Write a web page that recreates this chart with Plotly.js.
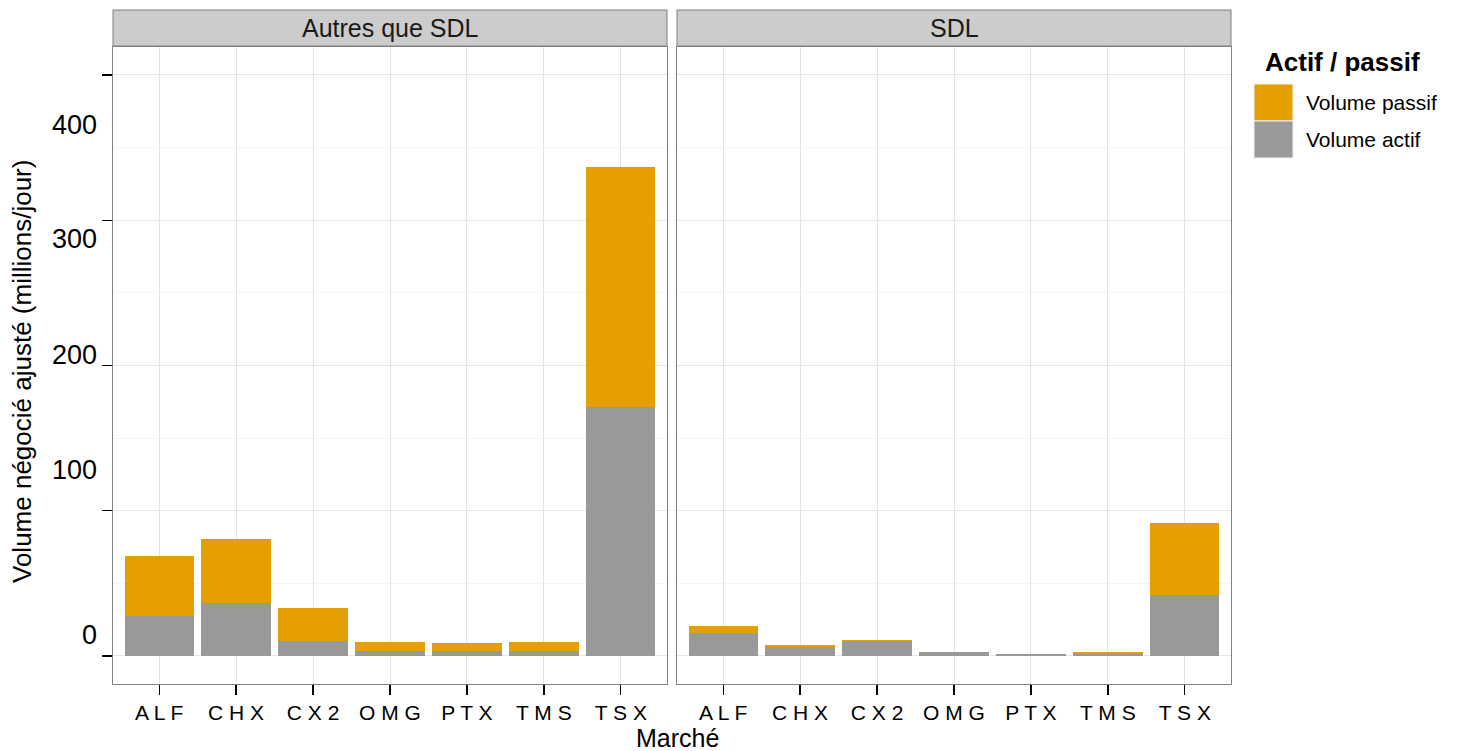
<!DOCTYPE html>
<html>
<head>
<meta charset="utf-8">
<script src="https://cdn.plot.ly/plotly-3.0.1.min.js"></script>
<style>
html, body { margin: 0; padding: 0; background: #ffffff; }
#chart { width: 1457px; height: 751px; }
</style>
</head>
<body>
<div id="chart"></div>
<script>
// ---- Data ----
const categories = ['ALF', 'CHX', 'CX2', 'OMG', 'PTX', 'TMS', 'TSX'];
const facetNames = ['Autres que SDL', 'SDL'];
const autresActif  = [27.5, 36.8, 10.5, 3.6, 3.6, 3.6, 171.6];
const autresPassif = [41.3, 44.0, 22.3, 6.2, 5.3, 6.2, 165.2];
const sdlActif     = [16.1, 6.5, 10.4, 2.4, 1.5, 1.2, 42.3];
const sdlPassif    = [4.8, 1.2, 0.7, 0.1, 0.05, 1.2, 49.5];
const yTickValues  = [0, 100, 200, 300, 400];
const yTickLabels  = ['0', '100', '200', '300', '400'];
const seriesNames  = ['Volume passif', 'Volume actif'];
const legendTitle  = 'Actif / passif';
const xTitle = 'Marché';
const yTitle = 'Volume négocié ajusté (millions/jour)';

// ---- Styling / layout ----
const W = 1457, H = 751;
const M = { l: 113, r: 226, t: 47, b: 67 };
const PW = W - M.l - M.r, PH = H - M.t - M.b;
const px = x => (x - M.l) / PW;          // pixel -> paper x
const py = y => (H - M.b - y) / PH;      // pixel -> paper y
const FONT = 'Liberation Sans, Arial, Helvetica, sans-serif';
const ORANGE = '#E69F00', GREY = '#999999';

const spaced = s => s.split('').join(' ');

function bar(xs, ys, name, color, xa, ya) {
  return {
    type: 'bar', x: xs, y: ys, name: name, xaxis: xa, yaxis: ya,
    marker: { color: color, line: { width: 0 } },
    showlegend: false, hoverinfo: 'x+y+name'
  };
}

const traces = [
  bar(categories, autresActif, seriesNames[1], GREY, 'x', 'y'),
  bar(categories, autresPassif, seriesNames[0], ORANGE, 'x', 'y'),
  bar(categories, sdlActif, seriesNames[1], GREY, 'x2', 'y2'),
  bar(categories, sdlPassif, seriesNames[0], ORANGE, 'x2', 'y2')
];

const yRange = [-19.3, 419.2];
const xCommon = {
  type: 'category', range: [-0.6, 6.6],
  tickvals: categories, ticktext: categories.map(spaced),
  tickfont: { family: FONT, size: 21, color: '#000000' },
  ticks: 'outside', ticklen: 10, tickwidth: 1.3, tickcolor: '#000000',
  showgrid: true, gridcolor: '#E3E3E3', gridwidth: 1,
  showline: true, mirror: true, linecolor: '#7F7F7F', linewidth: 1,
  zeroline: false, fixedrange: true
};
const yCommon = {
  range: yRange, tickvals: yTickValues,
  showticklabels: false,
  showgrid: true, gridcolor: '#E6E6E6', gridwidth: 1,
  minor: { dtick: 50, tick0: 0, showgrid: true, gridcolor: '#F5F5F5', gridwidth: 1, ticks: '' },
  showline: true, mirror: true, linecolor: '#7F7F7F', linewidth: 1,
  zeroline: false, fixedrange: true
};

const gapPx = 10;
const d1 = (PW - gapPx) / 2 / PW;
const layout = {
  width: W, height: H,
  margin: M,
  paper_bgcolor: '#ffffff', plot_bgcolor: '#ffffff',
  barmode: 'stack', bargap: 0.1,
  showlegend: false,
  font: { family: FONT, color: '#000000' },
  xaxis: Object.assign({}, xCommon, { domain: [0, d1], anchor: 'y' }),
  xaxis2: Object.assign({}, xCommon, { domain: [1 - d1, 1], anchor: 'y2' }),
  yaxis: Object.assign({}, yCommon, { domain: [0, 1], anchor: 'x',
    ticks: 'outside', ticklen: 10, tickwidth: 1.3, tickcolor: '#000000' }),
  yaxis2: Object.assign({}, yCommon, { domain: [0, 1], anchor: 'x2', matches: 'y', ticks: '' }),
  shapes: [],
  annotations: []
};

// Facet strips
[[0, d1], [1 - d1, 1]].forEach((dom, i) => {
  layout.shapes.push({
    type: 'rect', xref: 'paper', yref: 'paper',
    x0: dom[0], x1: dom[1], y0: py(46), y1: py(10),
    fillcolor: '#CCCCCC', line: { color: '#7F7F7F', width: 1 }, layer: 'above'
  });
  layout.annotations.push({
    xref: 'paper', yref: 'paper', x: (dom[0] + dom[1]) / 2, y: py(28),
    xanchor: 'center', yanchor: 'middle', showarrow: false,
    text: facetNames[i], font: { family: FONT, size: 25, color: '#1A1A1A' }
  });
});

// Y tick labels (drawn offset as in the reference)
const yLabelPix = [635, 470, 355, 239, 125];
yTickLabels.forEach((t, i) => {
  layout.annotations.push({
    xref: 'paper', yref: 'paper', x: px(99), y: py(yLabelPix[i]),
    xanchor: 'right', yanchor: 'middle', showarrow: false,
    text: t, font: { family: FONT, size: 27, color: '#000000' }
  });
});

// Axis titles
layout.annotations.push({
  xref: 'paper', yref: 'paper', x: px(677), y: py(738),
  xanchor: 'center', yanchor: 'middle', showarrow: false,
  text: xTitle, font: { family: FONT, size: 25, color: '#000000' }
});
layout.annotations.push({
  xref: 'paper', yref: 'paper', x: px(22), y: py(372),
  xanchor: 'center', yanchor: 'middle', showarrow: false, textangle: -90,
  text: yTitle, font: { family: FONT, size: 26, color: '#000000' }
});

// Legend (drawn manually to reproduce the large ggplot keys)
layout.annotations.push({
  xref: 'paper', yref: 'paper', x: px(1263), y: py(62),
  xanchor: 'left', yanchor: 'middle', showarrow: false,
  text: '<b>' + legendTitle + '</b>', font: { family: FONT, size: 26, color: '#000000' }
});
const keyColors = [ORANGE, GREY];
const keyTops = [84, 121];
seriesNames.forEach((n, i) => {
  layout.shapes.push({
    type: 'rect', xref: 'paper', yref: 'paper',
    x0: px(1254), x1: px(1293), y0: py(keyTops[i] + 37), y1: py(keyTops[i]),
    fillcolor: keyColors[i], line: { color: '#F2F2F2', width: 1 }
  });
  layout.annotations.push({
    xref: 'paper', yref: 'paper', x: px(1304), y: py(keyTops[i] + 18.5),
    xanchor: 'left', yanchor: 'middle', showarrow: false,
    text: n, font: { family: FONT, size: 21, color: '#000000' }
  });
});

Plotly.newPlot('chart', traces, layout, { displayModeBar: false, staticPlot: true });
</script>
</body>
</html>
